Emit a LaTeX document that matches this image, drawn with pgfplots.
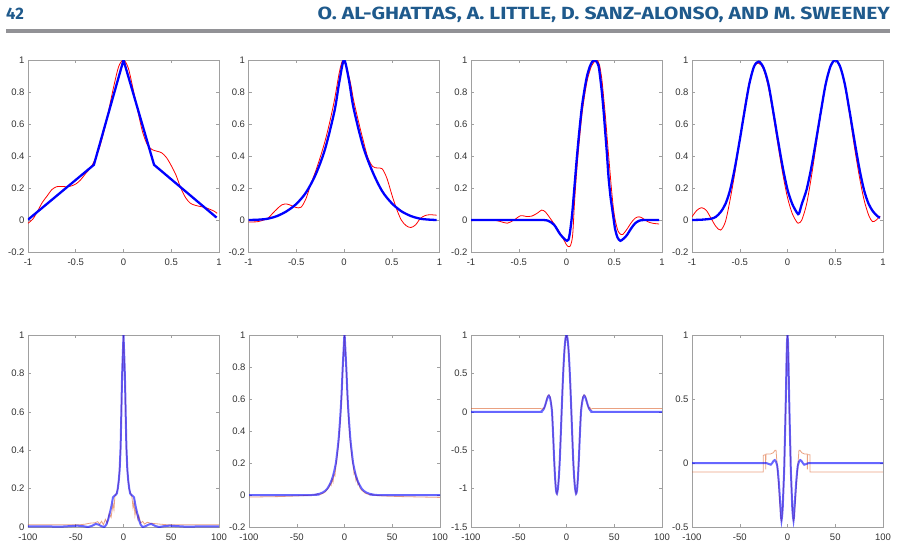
\documentclass[border=0pt]{standalone}
\usepackage{pgfplots}
\pgfplotsset{compat=1.18}
\usepackage{fontspec}
\setmainfont{Liberation Sans}
\newfontfamily\headfont{Fira Sans}
\definecolor{axgray}{RGB}{160,160,160}
\definecolor{txtgray}{RGB}{50,50,50}
\definecolor{headblue}{RGB}{31,90,140}
\definecolor{rulegray}{RGB}{146,146,150}
\definecolor{mred}{RGB}{255,0,0}
\definecolor{mblue}{RGB}{0,0,255}
\definecolor{morange}{RGB}{217,83,25}
\pgfplotsset{
  base/.style={
    scale only axis, width=191pt, height=192pt, anchor=south west,
    axis line style={draw=axgray, line width=0.5pt},
    tick style={draw=axgray, line width=0.5pt},
    major tick length=3pt, tick align=inside,
    ticklabel style={font=\fontsize{9.5}{10}\selectfont, text=txtgray},
    xticklabel style={yshift=-3pt},
  },
  top/.style={base, xmin=-1, xmax=1, ymin=-0.2, ymax=1,
    xtick={-1,-0.5,0,0.5,1}, xticklabels={-1,-0.5,0,0.5,1},
    ytick={-0.2,0,0.2,0.4,0.6,0.8,1}, yticklabels={-0.2,0,0.2,0.4,0.6,0.8,1}},
  bot/.style={base, xmin=-100, xmax=100,
    xtick={-100,-50,0,50,100}, xticklabels={-100,-50,0,50,100}},
  redl/.style={draw=mred, line width=0.8pt},
  bluel/.style={draw=mblue, line width=2.3pt},
  orl/.style={draw=morange, draw opacity=0.55, line width=0.8pt},
  bll/.style={draw=mblue, draw opacity=0.6, line width=2pt},
}
\begin{document}
\begin{tikzpicture}
\useasboundingbox (0,0) rectangle (898pt,-547pt);
% header
\node[anchor=base west, inner sep=0pt, text=headblue] at (6pt,-19pt) {\resizebox{!}{11.5pt}{\headfont\bfseries 42}};
\node[anchor=base east, inner sep=0pt, text=headblue] at (890pt,-19pt) {\resizebox{572pt}{12.5pt}{\headfont\bfseries O. AL-GHATTAS, A. LITTLE, D. SANZ-ALONSO, AND M. SWEENEY}};
\fill[rulegray] (6pt,-29pt) rectangle (890pt,-32.5pt);

% ---- plot 1
\begin{axis}[top, at={(28pt,-252pt)}]
\addplot[redl, smooth] coordinates {(-1,-0.02) (-0.95,0.005) (-0.9,0.055) (-0.85,0.11) (-0.8,0.15) (-0.75,0.19) (-0.7,0.208) (-0.65,0.21) (-0.6,0.208) (-0.55,0.212) (-0.5,0.225) (-0.45,0.25) (-0.4,0.288) (-0.35,0.322) (-0.3,0.375) (-0.25,0.455) (-0.2,0.565) (-0.15,0.7) (-0.1,0.84) (-0.05,0.96) (0,1.0) (0.05,0.95) (0.1,0.82) (0.15,0.68) (0.2,0.55) (0.25,0.47) (0.3,0.44) (0.35,0.43) (0.4,0.42) (0.45,0.39) (0.5,0.34) (0.55,0.28) (0.6,0.2) (0.65,0.14) (0.7,0.105) (0.75,0.092) (0.8,0.085) (0.85,0.079) (0.9,0.068) (0.95,0.055) (0.98,0.042)};
\addplot[bluel] coordinates {(-1,0.002) (-0.31,0.345) (0,1) (0.32,0.345) (0.975,0.015)};
\end{axis}

% ---- plot 2
\begin{axis}[top, at={(248.5pt,-252pt)}]
\addplot[redl, smooth] coordinates {(-1,-0.012) (-0.9,-0.01) (-0.8,0.01) (-0.75,0.04) (-0.7,0.07) (-0.65,0.095) (-0.6,0.1) (-0.55,0.09) (-0.5,0.078) (-0.45,0.08) (-0.4,0.13) (-0.35,0.22) (-0.3,0.3) (-0.25,0.39) (-0.2,0.49) (-0.15,0.61) (-0.1,0.75) (-0.05,0.92) (-0.02,0.99) (0.0,0.99) (0.03,0.95) (0.07,0.85) (0.1,0.75) (0.15,0.62) (0.2,0.5) (0.25,0.39) (0.3,0.335) (0.35,0.325) (0.4,0.32) (0.45,0.26) (0.5,0.16) (0.55,0.07) (0.6,0.0) (0.65,-0.035) (0.7,-0.047) (0.75,-0.03) (0.8,0.01) (0.85,0.028) (0.9,0.033) (0.97,0.03)};
\addplot[bluel, smooth] coordinates {(-1,0.0) (-0.9,0.002) (-0.8,0.008) (-0.7,0.025) (-0.6,0.055) (-0.5,0.1) (-0.4,0.17) (-0.3,0.28) (-0.2,0.44) (-0.1,0.68) (-0.05,0.86) (0,1.0) (0.05,0.88) (0.1,0.7) (0.2,0.46) (0.3,0.3) (0.4,0.18) (0.5,0.105) (0.6,0.055) (0.7,0.025) (0.8,0.008) (0.9,0.002) (0.97,0.0)};
\end{axis}

% ---- plot 3
\begin{axis}[top, at={(471pt,-252pt)}]
\addplot[redl, smooth] coordinates {(-1,-0.005) (-0.9,0.002) (-0.8,0.003) (-0.7,-0.008) (-0.62,-0.02) (-0.55,0.0) (-0.48,0.027) (-0.42,0.022) (-0.36,0.025) (-0.3,0.045) (-0.26,0.062) (-0.22,0.05) (-0.17,0.01) (-0.1,-0.05) (-0.04,-0.11) (0.0,-0.155) (0.025,-0.167) (0.045,-0.155) (0.065,-0.09) (0.085,0.12) (0.11,0.33) (0.135,0.5) (0.162,0.66) (0.19,0.78) (0.22,0.88) (0.26,0.96) (0.3,0.995) (0.32,1.0) (0.345,0.97) (0.37,0.88) (0.39,0.76) (0.41,0.63) (0.43,0.48) (0.45,0.34) (0.47,0.2) (0.49,0.08) (0.51,0.0) (0.54,-0.07) (0.57,-0.09) (0.59,-0.09) (0.63,-0.06) (0.68,-0.015) (0.72,0.012) (0.76,0.02) (0.8,0.01) (0.85,-0.01) (0.9,-0.02) (0.97,-0.025)};
\addplot[bluel, smooth] coordinates {(-1,0) (-0.6,0) (-0.3,0) (-0.2,-0.003) (-0.13,-0.03) (-0.065,-0.09) (0.005,-0.13) (0.03,-0.1) (0.058,0.03) (0.085,0.22) (0.11,0.4) (0.135,0.56) (0.162,0.71) (0.19,0.82) (0.215,0.9) (0.245,0.96) (0.27,0.99) (0.29,1.0) (0.315,0.99) (0.337,0.96) (0.355,0.88) (0.372,0.79) (0.39,0.67) (0.407,0.54) (0.425,0.4) (0.44,0.27) (0.46,0.15) (0.476,0.08) (0.495,0.0) (0.51,-0.06) (0.535,-0.11) (0.564,-0.13) (0.6,-0.115) (0.633,-0.094) (0.68,-0.05) (0.72,-0.02) (0.76,-0.005) (0.81,0) (0.97,0)};
\end{axis}

% ---- plot 4
\begin{axis}[top, at={(692pt,-252pt)}]
\addplot[redl, smooth] coordinates {(-1,0.02) (-0.95,0.06) (-0.9,0.077) (-0.85,0.06) (-0.8,0.01) (-0.75,-0.04) (-0.7,-0.063) (-0.65,-0.01) (-0.6,0.13) (-0.55,0.3) (-0.5,0.5) (-0.45,0.7) (-0.4,0.86) (-0.35,0.96) (-0.3,0.98) (-0.25,0.94) (-0.2,0.83) (-0.15,0.66) (-0.1,0.47) (-0.05,0.29) (0,0.14) (0.05,0.04) (0.1,-0.015) (0.12,-0.018) (0.15,0.0) (0.2,0.1) (0.25,0.27) (0.3,0.47) (0.35,0.67) (0.4,0.85) (0.45,0.96) (0.5,1.0) (0.55,0.96) (0.6,0.84) (0.65,0.66) (0.7,0.46) (0.75,0.28) (0.8,0.13) (0.85,0.03) (0.89,-0.01) (0.93,0.0) (0.97,0.025)};
\addplot[bluel, smooth] coordinates {(-1,0) (-0.9,0.002) (-0.8,0.008) (-0.75,0.02) (-0.7,0.05) (-0.65,0.1) (-0.6,0.19) (-0.55,0.33) (-0.5,0.5) (-0.45,0.68) (-0.4,0.85) (-0.35,0.96) (-0.3,0.99) (-0.25,0.95) (-0.2,0.85) (-0.15,0.68) (-0.1,0.5) (-0.05,0.33) (0,0.19) (0.05,0.1) (0.1,0.045) (0.12,0.04) (0.15,0.1) (0.2,0.19) (0.25,0.33) (0.3,0.5) (0.35,0.68) (0.4,0.85) (0.45,0.96) (0.5,1.0) (0.55,0.96) (0.6,0.85) (0.65,0.68) (0.7,0.5) (0.75,0.33) (0.8,0.19) (0.85,0.1) (0.9,0.05) (0.95,0.02) (0.97,0.015)};
\end{axis}

% ---- plot 5
\begin{axis}[bot, at={(28pt,-527pt)}, ymin=0, ymax=1,
  ytick={0,0.2,0.4,0.6,0.8,1}, yticklabels={0,0.2,0.4,0.6,0.8,1}]
\addplot[orl] coordinates {(-100,0.012) (-45,0.012) (-40,0.015) (-35,0.02) (-30,0.022) (-27,0.028) (-25,0.015) (-23,0.03) (-21,0.012) (-19,0.04) (-17,0.02) (-15,0.07) (-13,0.05) (-11,0.12) (-10,0.09) (-9,0.16) (-8,0.17) (-7,0.18) (-6,0.2) (-5,0.24) (-4,0.3) (-3,0.42) (-2,0.66) (-1.5,0.78) (-1,0.86) (0,1.0) (1,0.86) (1.5,0.78) (2,0.66) (3,0.42) (4,0.3) (5,0.24) (6,0.2) (7,0.18) (8,0.17) (9,0.15) (10,0.1) (11,0.13) (12,0.06) (13,0.09) (15,0.04) (16,0.06) (18,0.02) (20,0.03) (22,0.015) (25,0.025) (28,0.02) (32,0.018) (38,0.015) (45,0.012) (100,0.012)};
\addplot[bll] coordinates {(-100,0.003) (-80,0.003) (-65,0.002) (-55,0.005) (-48,0.007) (-42,0.004) (-37,0.0) (-33,0.006) (-29,0.016) (-26,0.012) (-23,0.004) (-20,0.0) (-18,0.012) (-16,0.04) (-14,0.08) (-12.6,0.11) (-11,0.155) (-9,0.165) (-8,0.168) (-7,0.175) (-6,0.2) (-5,0.24) (-4,0.3) (-3,0.42) (-2,0.66) (-1.5,0.78) (-1,0.86) (0,1.0) (1,0.86) (1.5,0.78) (2,0.66) (3,0.42) (4,0.3) (5,0.24) (6,0.2) (7,0.175) (8,0.168) (9,0.165) (11,0.155) (12.6,0.11) (14,0.08) (16,0.04) (18,0.012) (20,0.0) (23,0.004) (26,0.012) (29,0.016) (33,0.006) (37,0.0) (42,0.004) (48,0.007) (55,0.005) (65,0.002) (80,0.003) (100,0.003)};
\end{axis}

% ---- plot 6
\begin{axis}[bot, at={(249pt,-527pt)}, ymin=-0.2, ymax=1,
  ytick={-0.2,0,0.2,0.4,0.6,0.8,1}, yticklabels={-0.2,0,0.2,0.4,0.6,0.8,1}]
\addplot[orl] coordinates {(-100,-0.013) (-70,-0.01) (-50,-0.006) (-40,-0.003) (-33,0.0) (-28,0.006) (-25,0.004) (-22,0.012) (-20,0.02) (-18,0.035) (-16,0.05) (-15,0.07) (-14,0.06) (-13,0.1) (-12,0.08) (-11,0.13) (-10,0.12) (-9,0.18) (-8,0.22) (-6,0.33) (-4,0.5) (-3,0.62) (-2,0.77) (-1,0.9) (0,1.0) (1,0.9) (2,0.77) (3,0.62) (4,0.5) (6,0.33) (8,0.22) (9,0.19) (10,0.13) (11,0.14) (12,0.09) (13,0.11) (14,0.065) (15,0.075) (16,0.045) (18,0.03) (20,0.02) (22,0.01) (25,0.004) (28,0.003) (33,-0.002) (40,-0.006) (60,-0.01) (100,-0.015)};
\addplot[bll, smooth] coordinates {(-100,0) (-35,0) (-30,0.003) (-26,0.008) (-23,0.015) (-20,0.027) (-18,0.04) (-16,0.06) (-14,0.085) (-12,0.12) (-10,0.17) (-9,0.2) (-8,0.25) (-7,0.3) (-6,0.36) (-5,0.44) (-4,0.53) (-3,0.64) (-2,0.78) (-1,0.9) (0,1) (1,0.9) (2,0.78) (3,0.64) (4,0.53) (5,0.44) (6,0.36) (7,0.3) (8,0.25) (9,0.2) (10,0.17) (12,0.12) (14,0.085) (16,0.06) (18,0.04) (20,0.027) (23,0.015) (26,0.008) (30,0.003) (35,0) (100,0)};
\end{axis}

% ---- plot 7
\begin{axis}[bot, at={(471pt,-527pt)}, ymin=-1.5, ymax=1,
  ytick={-1.5,-1,-0.5,0,0.5,1}, yticklabels={-1.5,-1,-0.5,0,0.5,1}]
\addplot[orl] coordinates {(-100,0.043) (-27,0.043) (-25.5,0.03) (-24.5,0.05) (-23.5,0.04) (-22,0.09) (-21,0.15) (-20,0.2) (-19,0.22) (-18,0.22) (-17,0.19) (-16,0.12) (-15,0.0) (-14,-0.3) (-13,-0.6) (-12,-0.85) (-11,-1.02) (-10,-1.07) (-9,-1.0) (-8,-0.85) (-7,-0.62) (-6,-0.3) (-5,0.03) (-4,0.35) (-3,0.62) (-2,0.83) (-1,0.96) (0,1) (1,0.96) (2,0.83) (3,0.62) (4,0.35) (5,0.03) (6,-0.3) (7,-0.62) (8,-0.85) (9,-1.0) (10,-1.07) (11,-1.02) (12,-0.85) (13,-0.6) (14,-0.3) (15,0.0) (16,0.12) (17,0.19) (18,0.22) (19,0.22) (20,0.2) (21,0.15) (22,0.09) (23.5,0.04) (24.5,0.06) (25.5,0.03) (27,0.043) (100,0.043)};
\addplot[bll, smooth] coordinates {(-100,0) (-30,0) (-27,0.002) (-25,0.015) (-23,0.06) (-21,0.14) (-19.5,0.195) (-18.5,0.21) (-17.5,0.19) (-16.5,0.13) (-15.2,0.0) (-14,-0.3) (-13,-0.6) (-12,-0.85) (-11,-1.02) (-10,-1.065) (-9,-1.0) (-8,-0.85) (-7,-0.62) (-6,-0.3) (-5,0.03) (-4,0.35) (-3,0.62) (-2,0.83) (-1,0.96) (0,1) (1,0.96) (2,0.83) (3,0.62) (4,0.35) (5,0.03) (6,-0.3) (7,-0.62) (8,-0.85) (9,-1.0) (10,-1.065) (11,-1.02) (12,-0.85) (13,-0.6) (14,-0.3) (15.2,0.0) (16.5,0.13) (17.5,0.19) (18.5,0.21) (19.5,0.195) (21,0.14) (23,0.06) (25,0.015) (27,0.002) (30,0) (100,0)};
\end{axis}

% ---- plot 8
\begin{axis}[bot, at={(692pt,-527pt)}, ymin=-0.5, ymax=1,
  ytick={-0.5,0,0.5,1}, yticklabels={-0.5,0,0.5,1}]
\addplot[orl] coordinates {(-100,-0.07) (-25.5,-0.07) (-25.4,0.06) (-23,0.065) (-22.8,-0.05) (-22.6,0.07) (-18,0.07) (-15,0.08) (-13,0.1) (-12,0.1) (-11,0.0) (-10,-0.1) (-9,-0.2) (-8,-0.33) (-7,-0.43) (-6.3,-0.45) (-5.5,-0.4) (-4.5,-0.25) (-3.5,-0.06) (-2.5,0.25) (-1.75,0.5) (-1,0.8) (-0.5,0.95) (0,1) (0.5,0.95) (1,0.8) (1.75,0.5) (2.5,0.25) (3.5,-0.06) (4.5,-0.25) (5.5,-0.4) (6.3,-0.45) (7,-0.43) (8,-0.33) (9,-0.2) (10,-0.1) (11,0.0) (12,0.1) (13,0.1) (15,0.08) (18,0.07) (20.6,0.07) (20.8,-0.05) (21,0.065) (23.5,0.065) (23.6,-0.07) (100,-0.07)};
\addplot[bll] coordinates {(-100,0) (-23,0) (-21,-0.003) (-19,-0.01) (-17.5,-0.013) (-16,0.0) (-14.5,0.018) (-13.3,0.023) (-12,0.01) (-10.8,-0.02) (-10,-0.07) (-9.1,-0.15) (-8.2,-0.25) (-7.3,-0.35) (-6.8,-0.42) (-6.3,-0.45) (-5.7,-0.42) (-5,-0.35) (-4.5,-0.25) (-3.5,-0.06) (-2.5,0.25) (-1.75,0.5) (-1,0.8) (-0.5,0.95) (0,1) (0.5,0.95) (1,0.8) (1.75,0.5) (2.5,0.25) (3.5,-0.06) (4.5,-0.25) (5,-0.35) (5.7,-0.42) (6.3,-0.45) (6.8,-0.42) (7.3,-0.35) (8.2,-0.25) (9.1,-0.15) (10,-0.07) (10.8,-0.02) (12,0.01) (13.3,0.023) (14.5,0.018) (16,0.0) (17.5,-0.013) (19,-0.01) (21,-0.003) (23,0) (100,0)};
\end{axis}
\end{tikzpicture}
\end{document}
